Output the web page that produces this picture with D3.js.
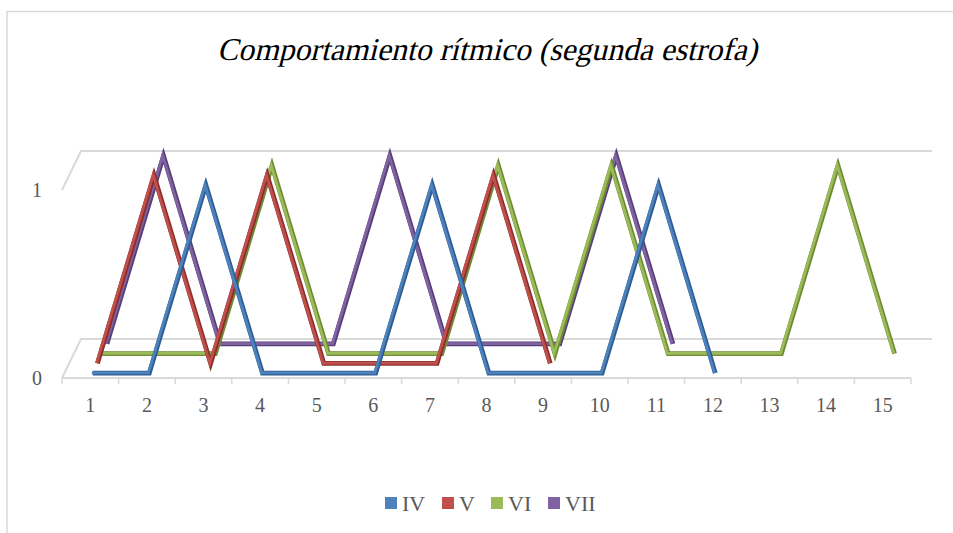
<!DOCTYPE html>
<html><head><meta charset="utf-8">
<script src="https://cdn.jsdelivr.net/npm/d3@7"></script>
<style>html,body{margin:0;padding:0;background:#fff;}svg{display:block;}</style>
</head><body>
<svg id="chart" width="953" height="533"></svg>
<script>
const title = "Comportamiento rítmico (segunda estrofa)";
const categories = ["1","2","3","4","5","6","7","8","9","10","11","12","13","14","15"];
const yTicks = [0, 1];
const seriesNames = ["IV", "V", "VI", "VII"];
const seriesColors = ["#4F81BD", "#C0504D", "#9BBB59", "#8064A2"];
const darkColors = ["#2E5D93", "#8E2E2B", "#6F8C34", "#583F7A"];
const valuesIV  = [0,0,1,0,0,0,1,0,0,0,1,0,null,null,null];
const valuesV   = [0,1,0,1,0,0,0,1,0,null,null,null,null,null,null];
const valuesVI  = [0,0,0,1,0,0,0,1,0,1,0,0,0,1,0];
const valuesVII = [0,1,0,0,0,1,0,0,0,1,0,null,null,null,null];
const allValues = [valuesIV, valuesV, valuesVI, valuesVII];

const svg = d3.select("#chart");
const lblFont = "Liberation Serif";
// chart border
svg.append("rect").attr("x",7).attr("y",11.5).attr("width",960).attr("height",540)
  .attr("fill","none").attr("stroke","#d9d9d9").attr("stroke-width",1.5);

// title (upright serif, slanted to imitate the italic)
const titleEl = svg.append("text").attr("text-anchor","middle")
  .attr("transform","translate(487,60) skewX(-14)")
  .style("font-family",lblFont).attr("font-size",28.5).attr("fill","#000").text(title);
const tw = titleEl.node().getComputedTextLength();
if (tw > 0) titleEl.attr("font-size", 28.5 * 540 / tw);

// scales
const x0 = 62, x1 = 911;
const xBand = d3.scaleBand().domain(categories).range([x0, x1]).padding(0);
const y = d3.scaleLinear().domain([0,1]).range([378,190]);
const DX = 19, DY = -39;

const grid = svg.append("g");
yTicks.forEach(t => {
  const yy = y(t);
  grid.append("path")
    .attr("d", `M${x0},${yy} L${x0+DX},${yy+DY} L${x1+DX+2},${yy+DY}`)
    .attr("fill","none").attr("stroke","#d9d9d9").attr("stroke-width",2);
});
grid.append("line").attr("x1",x0).attr("x2",x1).attr("y1",y(0)).attr("y2",y(0))
  .attr("stroke","#d9d9d9").attr("stroke-width",2);
d3.range(categories.length+1).forEach(i => {
  const xx = x0 + i*xBand.step();
  grid.append("line").attr("x1",xx).attr("x2",xx).attr("y1",y(0)).attr("y2",y(0)+6)
    .attr("stroke","#d9d9d9").attr("stroke-width",1.5);
});

// axis labels
categories.forEach(c => {
  svg.append("text").attr("x", xBand(c)+xBand.bandwidth()/2).attr("y", 412)
    .attr("text-anchor","middle").style("font-family",lblFont).attr("font-size",20)
    .attr("fill","#595959").text(c);
});
yTicks.forEach(t => {
  svg.append("text").attr("x", 42).attr("y", y(t)+7)
    .attr("text-anchor","end").style("font-family",lblFont).attr("font-size",20)
    .attr("fill","#595959").text(t);
});

// series lines (back to front)
const nS = seriesNames.length;
for (let s = nS-1; s >= 0; s--) {
  const f = (s+0.5)/nS;
  const ox = DX*f, oy = DY*f;
  const line = d3.line()
    .defined(d => d.v !== null)
    .x(d => xBand(d.c) + xBand.bandwidth()/2 + ox)
    .y(d => y(d.v) + oy);
  const data = categories.map((c,i) => ({c, v: allValues[s][i]}));
  const g = svg.append("g");
  g.append("path").attr("d", line(data)).attr("fill","none")
    .attr("stroke", darkColors[s]).attr("stroke-width",4.8)
    .attr("stroke-linejoin","miter").attr("stroke-linecap","butt");
  g.append("path").attr("d", line(data)).attr("fill","none")
    .attr("transform","translate(-0.8,-0.3)")
    .attr("stroke", seriesColors[s]).attr("stroke-width",2.8)
    .attr("stroke-linejoin","miter").attr("stroke-linecap","butt");
}

// legend
const legX = [385, 442, 491, 548];
seriesNames.forEach((n,i) => {
  svg.append("rect").attr("x",legX[i]).attr("y",497).attr("width",12).attr("height",12)
    .attr("fill",seriesColors[i]);
  svg.append("text").attr("x",legX[i]+17).attr("y",511)
    .style("font-family",lblFont).attr("font-size",22).attr("fill","#595959").text(n);
});
</script>
</body></html>
